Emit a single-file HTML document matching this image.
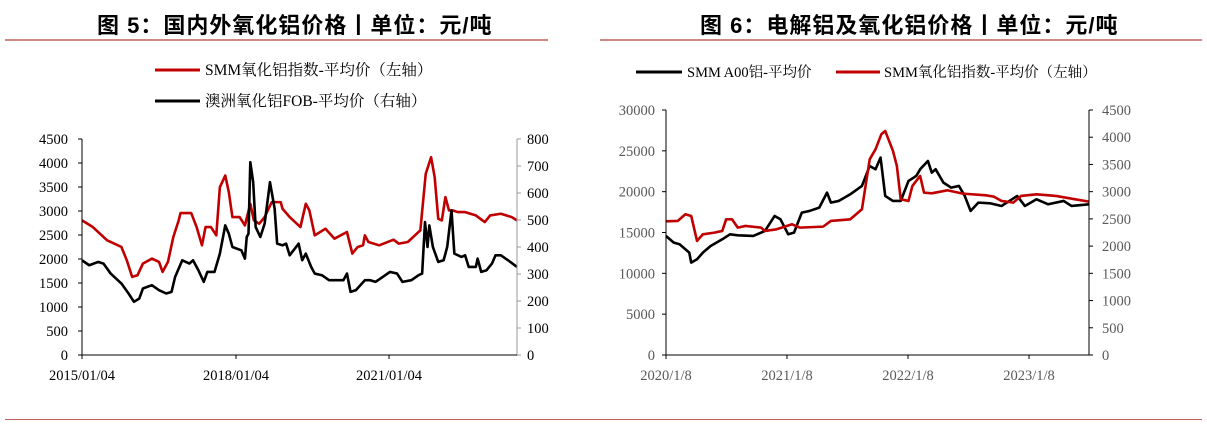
<!DOCTYPE html>
<html><head><meta charset="utf-8"><style>
body{margin:0;width:1207px;height:425px;background:#fff;overflow:hidden;position:relative;font-family:"Liberation Serif","Noto Serif CJK SC",serif;}
.t{position:absolute;font-family:"Liberation Sans","Noto Sans CJK SC",sans-serif;font-weight:bold;font-size:22px;letter-spacing:1px;top:8px;color:#000;white-space:nowrap}
</style></head><body>
<div class="t" style="left:97px">图 5：国内外氧化铝价格丨单位：元/吨</div>
<div class="t" style="left:700px">图 6：电解铝及氧化铝价格丨单位：元/吨</div>
<svg width="1207" height="425" style="position:absolute;left:0;top:0" font-family="'Liberation Serif','Noto Serif CJK SC',serif">
<line x1="5" y1="40" x2="548" y2="40" stroke="#c0605c" stroke-width="1.5"/>
<line x1="600" y1="40" x2="1202" y2="40" stroke="#c0605c" stroke-width="1.5"/>
<line x1="5" y1="419.5" x2="1202" y2="419.5" stroke="#c0605c" stroke-width="1"/>
<line x1="155" y1="70" x2="200" y2="70" stroke="#c00000" stroke-width="3"/>
<text x="205" y="75" font-size="15.5">SMM氧化铝指数-平均价（左轴）</text>
<line x1="155" y1="101" x2="200" y2="101" stroke="#000" stroke-width="3"/>
<text x="205" y="106" font-size="15.5">澳洲氧化铝FOB-平均价（右轴）</text>
<line x1="636" y1="72" x2="682" y2="72" stroke="#000" stroke-width="3"/>
<text x="687" y="77" font-size="14.5">SMM A00铝-平均价</text>
<line x1="836" y1="72" x2="880" y2="72" stroke="#c00000" stroke-width="3"/>
<text x="884" y="77" font-size="14.5">SMM氧化铝指数-平均价（左轴）</text>
<g transform="translate(-0.3,120.7) scale(0.358,0.3323)" fill="none" stroke-linejoin="round">
<polyline vector-effect="non-scaling-stroke" stroke="#c00000" stroke-width="2.6" points="230,300 260,320 300,360 340,380 355,420 370,470 385,465 400,430 425,415 445,425 455,455 470,425 485,350 500,300 505,278 535,278 550,320 565,375 575,320 590,320 605,345 615,200 630,165 640,215 650,290 670,290 685,315 700,250 710,300 725,310 740,290 760,245 785,245 790,265 810,290 840,320 855,250 865,270 880,345 910,325 935,355 970,335 985,400 1000,380 1015,375 1020,345 1030,365 1060,375 1100,358 1115,370 1140,365 1160,345 1175,330 1190,160 1205,110 1215,170 1225,295 1235,300 1245,230 1255,270 1265,270 1280,275 1300,275 1330,285 1355,305 1370,285 1400,280 1430,290 1445,300"/>
<polyline vector-effect="non-scaling-stroke" stroke="#000" stroke-width="2.6" points="230,420 250,435 275,425 290,430 310,460 340,490 360,520 375,545 390,535 400,505 425,495 445,510 465,520 480,515 490,470 510,420 530,430 540,420 555,450 570,485 580,455 600,455 615,400 630,315 640,340 650,380 675,390 685,415 690,350 695,340 700,125 708,185 715,320 728,350 740,310 755,185 768,265 775,370 790,375 800,370 810,405 835,370 845,420 855,400 870,440 880,460 900,465 920,480 940,480 960,480 970,460 980,515 995,510 1020,480 1035,480 1050,485 1070,470 1090,455 1110,460 1125,485 1150,480 1170,465 1180,460 1188,305 1195,380 1200,315 1210,380 1225,425 1240,420 1250,380 1262,270 1270,400 1290,410 1300,405 1310,440 1330,440 1335,415 1345,455 1360,450 1375,430 1385,405 1400,405 1420,420 1445,440"/>
</g>
<g transform="translate(598.1,99.3) scale(0.388,0.3333)" fill="none" stroke-linejoin="round">
<polyline vector-effect="non-scaling-stroke" stroke="#000" stroke-width="2.6" points="175,410 195,430 210,435 235,460 240,490 255,480 270,460 290,440 320,420 340,405 360,408 400,410 430,395 455,350 470,360 490,405 505,400 525,340 545,335 570,325 590,280 600,310 620,305 650,285 680,260 700,200 715,210 728,175 740,290 760,305 780,305 800,245 820,230 830,210 850,185 860,220 870,210 890,250 910,265 930,260 945,290 960,335 980,310 1010,312 1040,320 1060,305 1080,290 1100,320 1130,300 1160,315 1200,305 1220,320 1265,315"/>
<polyline vector-effect="non-scaling-stroke" stroke="#c00000" stroke-width="2.6" points="175,366 205,365 225,345 240,350 255,425 270,405 300,400 320,395 330,360 345,360 360,385 380,380 420,385 430,395 460,390 500,375 520,385 580,382 600,365 650,360 680,330 700,180 715,150 730,105 740,95 760,155 770,200 780,300 800,305 810,260 830,230 840,280 860,282 900,273 940,283 1000,288 1020,292 1040,305 1070,310 1090,290 1130,285 1180,290 1230,300 1265,307"/>
</g>
</svg>
<script>
var NS="http://www.w3.org/2000/svg",svg=document.querySelector('svg');
function el(t,a,txt){var e=document.createElementNS(NS,t);for(var k in a)e.setAttribute(k,a[k]);if(txt!=null)e.textContent=txt;svg.appendChild(e);return e;}
var x0=82,x1=517,yb=355,yt=139;
el('line',{x1:x0,y1:yt,x2:x0,y2:yb,stroke:'#000'});
el('line',{x1:x1,y1:yt,x2:x1,y2:yb,stroke:'#999'});
el('line',{x1:x0,y1:yb,x2:x1,y2:yb,stroke:'#000'});
for(var i=0;i<=9;i++){var y=yb-(yb-yt)*i/9;el('line',{x1:x0-4,y1:y,x2:x0,y2:y,stroke:'#000'});el('text',{x:x0-14,y:y+5,'text-anchor':'end','font-size':14.5},String(i*500));}
for(var i=0;i<=8;i++){var y=yb-(yb-yt)*i/8;el('line',{x1:x1,y1:y,x2:x1+4,y2:y,stroke:'#999'});el('text',{x:x1+10,y:y+5,'font-size':14.5},String(i*100));}
[[x0,'2015/01/04'],[236,'2018/01/04'],[389,'2021/01/04']].forEach(function(p){el('line',{x1:p[0],y1:yb,x2:p[0],y2:yb+4,stroke:'#000'});el('text',{x:p[0],y:yb+25,'text-anchor':'middle','font-size':14.5},p[1]);});
var a0=666,a1=1089,b0=355,b1=110,g='#595959';
el('line',{x1:a0,y1:b1,x2:a0,y2:b0,stroke:'#000'});
el('line',{x1:a1,y1:b1,x2:a1,y2:b0,stroke:'#000'});
el('line',{x1:a0,y1:b0,x2:a1,y2:b0,stroke:'#000'});
for(var i=0;i<=6;i++){var y=b0-(b0-b1)*i/6;el('line',{x1:a0-4,y1:y,x2:a0,y2:y,stroke:'#000'});el('text',{x:a0-11,y:y+5,'text-anchor':'end','font-size':14.5,fill:g},String(i*5000));}
for(var i=0;i<=9;i++){var y=b0-(b0-b1)*i/9;el('line',{x1:a1,y1:y,x2:a1+4,y2:y,stroke:'#000'});el('text',{x:a1+13,y:y+5,'font-size':14.5,fill:g},String(i*500));}
[[a0,'2020/1/8'],[787,'2021/1/8'],[908,'2022/1/8'],[1029,'2023/1/8']].forEach(function(p){el('line',{x1:p[0],y1:b0,x2:p[0],y2:b0+4,stroke:'#000'});el('text',{x:p[0],y:b0+25,'text-anchor':'middle','font-size':14.5,fill:g},p[1]);});
</script>
</body></html>
